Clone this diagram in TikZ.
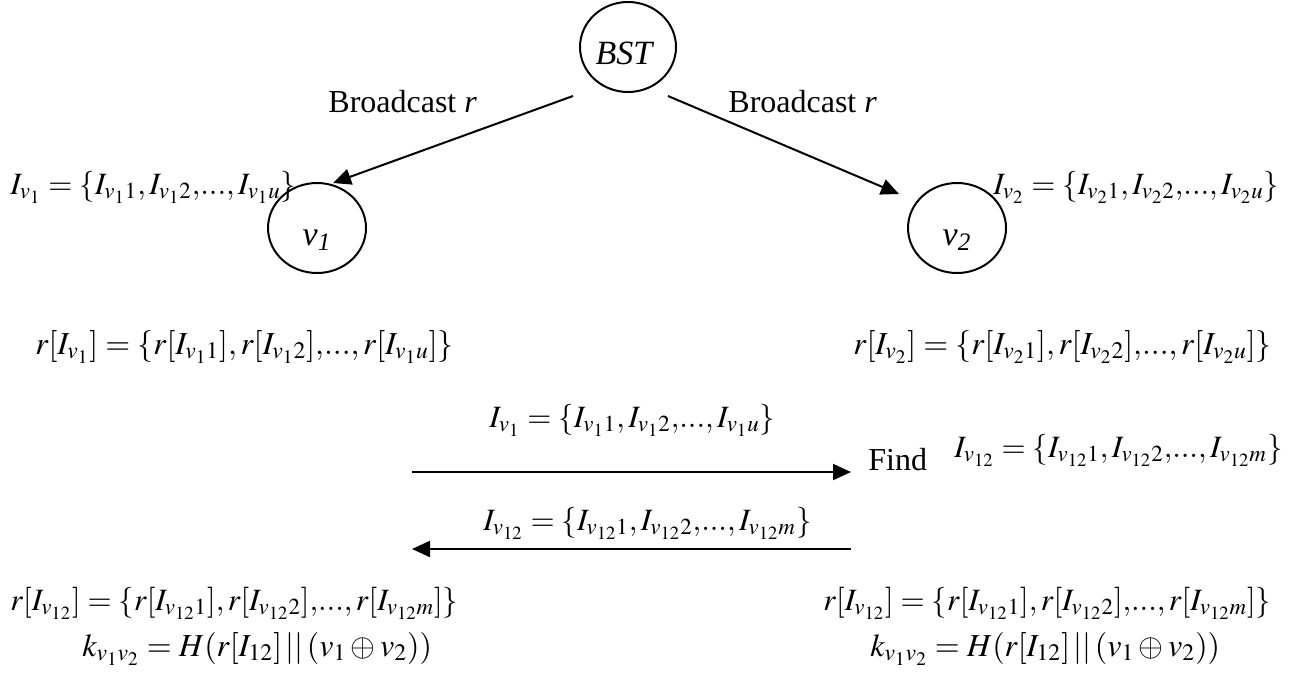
\documentclass[tikz,border=0pt]{standalone}
\usepackage{mathptmx}
\usepackage{fontspec}
\setmainfont{Liberation Serif}
\usetikzlibrary{shapes.geometric,arrows.meta}

% compact ",...," as set in the original equations
\newcommand{\etcdots}{,\!...,}

\tikzset{
  ring/.style={draw, line width=1pt, ellipse, inner sep=0pt},
  txt/.style={font=\fontsize{16}{19}\selectfont, inner sep=0pt, anchor=base west},
  eq/.style={font=\fontsize{16}{19}\selectfont, inner sep=0pt, anchor=base west},
  eqs/.style={font=\fontsize{15.5}{18}\selectfont, inner sep=0pt, anchor=base west},
  eqb/.style={font=\fontsize{15.5}{18}\selectfont, inner sep=0pt, anchor=base west},
  lbl/.style={font=\fontsize{17}{20}\selectfont\itshape, inner sep=0pt},
  arr/.style={line width=1pt, -{Triangle[length=9pt,width=8pt]}},
}

\begin{document}
\begin{tikzpicture}[x=0.5pt, y=-0.5pt]
\useasboundingbox (0,0) rectangle (1293,675);

% stations
\node[ring, minimum width=48pt, minimum height=45pt] (bst) at (628,47) {};
\node[lbl] (bstt) at (624,53) {BST};
\node[ring, minimum width=49pt, minimum height=45pt] (v1) at (317,228) {};
\node[lbl] (v1t) at (317,240) {v\textsubscript{1}};
\node[ring, minimum width=49pt, minimum height=45pt] (v2) at (957,228) {};
\node[lbl] (v2t) at (957,240) {v\textsubscript{2}};

% broadcast from the base station
\coordinate (bl) at (573,96);
\coordinate (br) at (668,96);
\coordinate (tl) at (333,183);
\coordinate (tr) at (899,194);
\draw[arr] (bl) -- (tl);
\draw[arr] (br) -- (tr);
\node[txt] (bcl) at (328,112) {Broadcast \textit{r}};
\node[txt] (bcr) at (728,112) {Broadcast \textit{r}};

% index sets held by each sensor
\node[eqs] (iv1) at (10,194) {$I_{v_1} = \{I_{v_1 1}, I_{v_1 2}\etcdots I_{v_1 u}\}$};
\node[eqs] (iv2) at (993,194) {$I_{v_2} = \{I_{v_2 1}, I_{v_2 2}\etcdots I_{v_2 u}\}$};
\node[eq] (rv1) at (35,354) {$r[I_{v_1}] = \{r[I_{v_1 1}], r[I_{v_1 2}]\etcdots r[I_{v_1 u}]\}$};
\node[eq] (rv2) at (853,354) {$r[I_{v_2}] = \{r[I_{v_2 1}], r[I_{v_2 2}]\etcdots r[I_{v_2 u}]\}$};

% exchange between v1 and v2
\node[eqs] (m1) at (489,427) {$I_{v_1} = \{I_{v_1 1}, I_{v_1 2}\etcdots I_{v_1 u}\}$};
\coordinate (a1s) at (412,472);
\coordinate (a1e) at (851,472);
\draw[arr] (a1s) -- (a1e);
\node[txt] (find) at (868,470) {Find};
\node[eqs] (i12) at (954,457) {$I_{v_{12}} = \{I_{v_{12} 1}, I_{v_{12} 2}\etcdots I_{v_{12} m}\}$};
\node[eqs] (m2) at (483,530) {$I_{v_{12}} = \{I_{v_{12} 1}, I_{v_{12} 2}\etcdots I_{v_{12} m}\}$};
\coordinate (a2s) at (851,549);
\coordinate (a2e) at (412,549);
\draw[arr] (a2s) -- (a2e);

% shared key derivation
\node[eqb] (rl) at (10,610) {$r[I_{v_{12}}] = \{r[I_{v_{12} 1}], r[I_{v_{12} 2}]\etcdots r[I_{v_{12} m}]\}$};
\node[eq] (kl) at (82,656) {$k_{v_1 v_2} = H(r[I_{12}] \,||\, (v_1 \oplus v_2))$};
\node[eqb] (rr) at (823,610) {$r[I_{v_{12}}] = \{r[I_{v_{12} 1}], r[I_{v_{12} 2}]\etcdots r[I_{v_{12} m}]\}$};
\node[eq] (kr) at (870,656) {$k_{v_1 v_2} = H(r[I_{12}] \,||\, (v_1 \oplus v_2))$};
\end{tikzpicture}
\end{document}
